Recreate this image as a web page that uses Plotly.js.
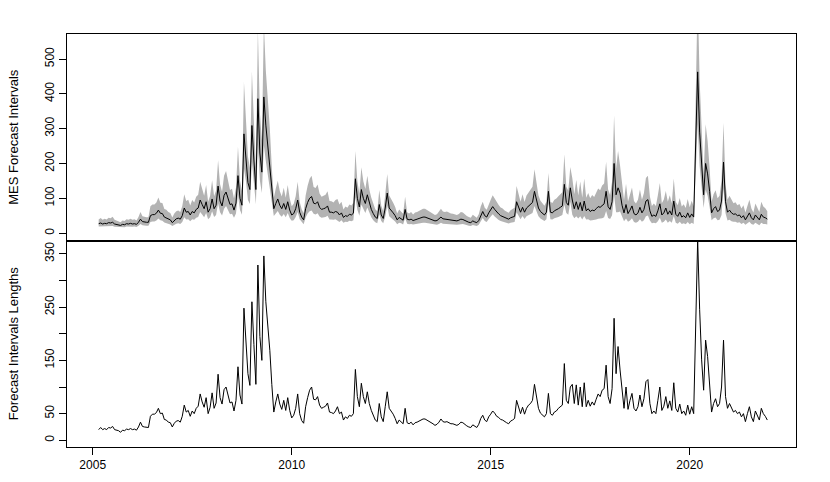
<!DOCTYPE html>
<html>
<head>
<meta charset="utf-8">
<script src="https://cdn.plot.ly/plotly-3.0.1.min.js"></script>
<style>html,body{margin:0;padding:0;background:#fff;}#chart{width:830px;height:482px;}</style>
</head>
<body>
<div id="chart"></div>
<script>
// Time index (decimal years)
const years = [
2005.15,2005.20,2005.25,2005.30,2005.35,2005.40,2005.45,2005.50,2005.55,2005.60,2005.65,2005.70,2005.75,2005.80,2005.85,2005.90,2005.95,
2006.00,2006.05,2006.10,2006.15,2006.20,2006.25,2006.30,2006.35,2006.40,2006.45,2006.50,2006.55,2006.60,2006.65,2006.70,2006.75,2006.80,2006.85,2006.90,2006.95,
2007.00,2007.05,2007.10,2007.15,2007.20,2007.25,2007.30,2007.35,2007.40,2007.45,2007.50,2007.55,2007.60,2007.65,2007.70,2007.75,2007.80,2007.85,2007.90,2007.95,
2008.00,2008.05,2008.10,2008.15,2008.20,2008.25,2008.30,2008.35,2008.40,2008.45,2008.50,2008.55,2008.60,2008.65,2008.70,2008.75,2008.80,2008.85,2008.90,2008.95,
2009.00,2009.05,2009.10,2009.15,2009.20,2009.25,2009.30,2009.35,2009.40,2009.45,2009.50,2009.55,2009.60,2009.65,2009.70,2009.75,2009.80,2009.85,2009.90,2009.95,
2010.00,2010.05,2010.10,2010.15,2010.20,2010.25,2010.30,2010.35,2010.40,2010.45,2010.50,2010.55,2010.60,2010.65,2010.70,2010.75,2010.80,2010.85,2010.90,2010.95,
2011.00,2011.05,2011.10,2011.15,2011.20,2011.25,2011.30,2011.35,2011.40,2011.45,2011.50,2011.55,2011.60,2011.65,2011.70,2011.75,2011.80,2011.85,2011.90,2011.95,
2012.00,2012.05,2012.10,2012.15,2012.20,2012.25,2012.30,2012.35,2012.40,2012.45,2012.50,2012.55,2012.60,2012.65,2012.70,2012.75,2012.80,2012.85,2012.90,2012.95,
2013.00,2013.05,2013.10,2013.15,2013.20,2013.25,2013.30,2013.35,2013.40,2013.45,2013.50,2013.55,2013.60,2013.65,2013.70,2013.75,2013.80,2013.85,2013.90,2013.95,
2014.00,2014.05,2014.10,2014.15,2014.20,2014.25,2014.30,2014.35,2014.40,2014.45,2014.50,2014.55,2014.60,2014.65,2014.70,2014.75,2014.80,2014.85,2014.90,2014.95,
2015.00,2015.05,2015.10,2015.15,2015.20,2015.25,2015.30,2015.35,2015.40,2015.45,2015.50,2015.55,2015.60,2015.65,2015.70,2015.75,2015.80,2015.85,2015.90,2015.95,
2016.00,2016.05,2016.10,2016.15,2016.20,2016.25,2016.30,2016.35,2016.40,2016.45,2016.50,2016.55,2016.60,2016.65,2016.70,2016.75,2016.80,2016.85,2016.90,2016.95,
2017.00,2017.05,2017.10,2017.15,2017.20,2017.25,2017.30,2017.35,2017.40,2017.45,2017.50,2017.55,2017.60,2017.65,2017.70,2017.75,2017.80,2017.85,2017.90,2017.95,
2018.00,2018.05,2018.10,2018.15,2018.20,2018.25,2018.30,2018.35,2018.40,2018.45,2018.50,2018.55,2018.60,2018.65,2018.70,2018.75,2018.80,2018.85,2018.90,2018.95,
2019.00,2019.05,2019.10,2019.15,2019.20,2019.25,2019.30,2019.35,2019.40,2019.45,2019.50,2019.55,2019.60,2019.65,2019.70,2019.75,2019.80,2019.85,2019.90,2019.95,
2020.00,2020.05,2020.10,2020.15,2020.20,2020.25,2020.30,2020.35,2020.40,2020.45,2020.50,2020.55,2020.60,2020.65,2020.70,2020.75,2020.80,2020.85,2020.90,2020.95,
2021.00,2021.05,2021.10,2021.15,2021.20,2021.25,2021.30,2021.35,2021.40,2021.45,2021.50,2021.55,2021.60,2021.65,2021.70,2021.75,2021.80,2021.85,2021.90,2021.95
];

// MES point forecasts (top panel black line)
const mesForecast = [
27,29,26,28,27,30,29,31,26,25,24,22,25,24,27,26,28,26,27,25,
31,40,33,31,31,31,50,53,53,57,66,57,56,46,44,40,38,30,37,41,
43,40,50,72,60,62,52,62,58,68,72,95,82,70,90,60,70,98,70,80,
135,92,78,108,118,100,82,84,66,86,165,100,80,285,225,145,125,309,210,125,
386,230,175,391,310,255,200,125,70,85,98,80,70,85,68,90,66,52,56,70,
95,60,46,38,70,88,100,105,86,84,90,74,68,70,72,78,60,60,58,62,
60,52,58,45,50,48,54,52,57,156,100,75,125,100,85,110,84,68,56,46,
42,82,52,42,72,115,72,66,58,50,38,45,42,37,68,40,38,40,36,39,
40,42,45,46,46,44,42,40,38,35,36,40,46,41,40,41,39,38,37,36,
35,37,40,39,36,33,31,30,35,32,30,36,52,62,50,46,58,66,76,68,
60,55,50,48,44,42,40,44,46,48,90,72,60,74,60,72,78,82,88,120,
95,72,62,56,52,60,120,60,58,64,66,70,74,78,140,88,80,130,
95,70,90,68,88,64,92,64,70,62,66,64,70,76,74,80,84,120,76,68,
90,200,110,130,115,80,58,82,56,66,78,56,52,58,74,58,68,92,96,64,
48,52,48,64,84,52,58,72,54,64,52,92,54,48,60,46,50,44,58,45,
55,46,250,463,290,180,110,200,170,120,58,70,76,62,66,92,204,90,60,66,
58,54,55,50,52,44,50,38,48,58,44,38,52,44,38,54,46,44,40
];

// Forecast interval lengths (bottom panel)
const intervalLength = [
20,24,20,22,20,24,23,26,20,19,18,15,19,18,21,20,22,20,21,19,
25,34,26,25,24,24,45,49,49,52,60,50,51,39,38,34,33,25,32,36,
37,34,45,66,53,56,45,55,50,60,64,87,72,62,80,50,62,89,60,70,
124,80,68,95,100,85,70,72,55,75,138,85,68,248,190,125,103,260,180,105,
329,195,150,346,260,215,169,105,53,72,87,68,58,75,56,80,56,42,47,60,
87,50,37,32,63,80,94,100,77,76,82,66,60,62,64,70,53,52,50,55,
63,50,53,38,44,41,47,45,50,133,82,63,107,82,69,91,69,56,47,38,
35,69,44,35,63,91,60,55,49,41,31,38,35,31,60,33,31,34,29,33,
34,36,39,40,40,38,36,33,31,28,30,34,40,35,34,35,33,31,31,29,
28,30,34,33,29,27,25,24,29,26,24,30,41,47,38,35,44,49,55,51,
45,43,39,38,35,33,31,36,38,41,75,60,50,62,49,60,66,69,75,105,
82,60,51,47,44,50,88,50,47,53,55,60,63,66,144,75,69,100,
105,69,104,66,100,63,108,63,75,64,72,66,77,87,82,94,97,141,82,69,
97,229,125,176,132,88,60,100,58,75,88,60,55,63,85,63,78,110,114,69,
50,55,50,75,100,56,64,82,60,74,56,108,60,53,68,50,55,47,66,49,
63,50,188,376,245,151,94,188,157,113,53,69,78,63,69,100,188,82,60,69,
60,53,56,50,53,44,50,35,50,63,44,35,55,45,38,60,50,45,38
];

const xTicks = [2005, 2010, 2015, 2020];
const topTicks = [0, 100, 200, 300, 400, 500];
const bottomTicks = [0, 50, 100, 150, 200, 250, 300, 350];
const bottomTickText = ["0", "50", "", "150", "", "250", "", "350"];

// Interval bounds built from the point forecast and the interval length
const lowerBound = mesForecast.map((m, i) => m - 0.4 * intervalLength[i]);
const upperBound = mesForecast.map((m, i) => m + 0.6 * intervalLength[i]);

const FONT = "Liberation Sans, Arial, Helvetica, sans-serif";

const traces = [
  {x: years, y: lowerBound, xaxis: "x2", yaxis: "y2", mode: "lines",
   line: {width: 0, color: "#b3b3b3"}, hoverinfo: "skip", showlegend: false},
  {x: years, y: upperBound, xaxis: "x2", yaxis: "y2", mode: "lines", fill: "tonexty",
   fillcolor: "#b3b3b3", line: {width: 0, color: "#b3b3b3"}, hoverinfo: "skip", showlegend: false},
  {x: years, y: mesForecast, xaxis: "x2", yaxis: "y2", mode: "lines",
   line: {width: 1, color: "#000"}, showlegend: false},
  {x: years, y: intervalLength, xaxis: "x", yaxis: "y", mode: "lines",
   line: {width: 1, color: "#000"}, showlegend: false}
];

const axisBase = {
  showline: true, mirror: true, linecolor: "#000", linewidth: 1,
  showgrid: false, zeroline: false,
  tickfont: {family: FONT, size: 12, color: "#000"}
};

const xRange = [2004.354, 2022.671];

const layout = {
  width: 830, height: 482,
  margin: {l: 67, r: 34, t: 34, b: 35},
  paper_bgcolor: "#fff", plot_bgcolor: "#fff",
  font: {family: FONT, size: 12, color: "#000"},
  showlegend: false,
  xaxis: Object.assign({}, axisBase, {
    anchor: "y", range: xRange, tickmode: "array", tickvals: xTicks,
    ticktext: xTicks.map(String), ticks: "outside", ticklen: 7, tickcolor: "#000", tickwidth: 1
  }),
  xaxis2: Object.assign({}, axisBase, {
    anchor: "y2", range: xRange, showticklabels: false, ticks: ""
  }),
  yaxis: Object.assign({}, axisBase, {
    domain: [0, 0.5], anchor: "x", range: [-12.6, 375],
    tickmode: "array", tickvals: bottomTicks, ticktext: bottomTickText,
    ticks: "outside", ticklen: 7, tickcolor: "#000", tickwidth: 1, tickangle: -90,
    title: {text: "Forecast Intervals Lengths", font: {family: FONT, size: 13, color: "#000"}, standoff: 21}
  }),
  yaxis2: Object.assign({}, axisBase, {
    domain: [0.5, 1], anchor: "x2", range: [-21.3, 571.8],
    tickmode: "array", tickvals: topTicks, ticktext: topTicks.map(String),
    ticks: "outside", ticklen: 7, tickcolor: "#000", tickwidth: 1, tickangle: -90,
    title: {text: "MES Forecast Intervals", font: {family: FONT, size: 13, color: "#000"}, standoff: 21}
  })
};

Plotly.newPlot("chart", traces, layout, {displayModeBar: false, staticPlot: true});
</script>
</body>
</html>
